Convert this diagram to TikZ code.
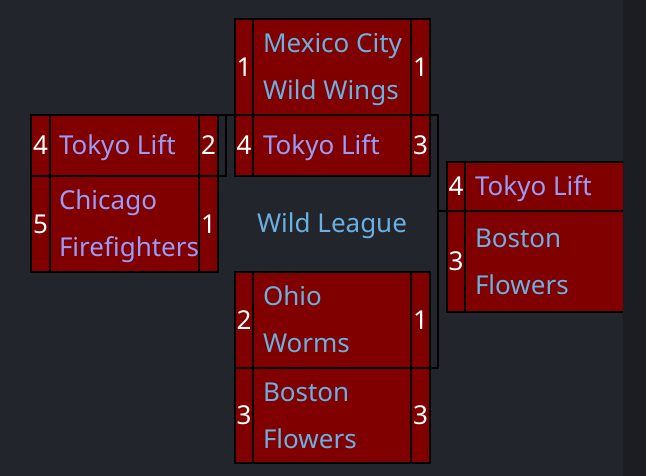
\documentclass[tikz,border=0pt]{standalone}
\usepackage{fontspec}
\setmainfont{Noto Sans}
\definecolor{bg}{HTML}{22252C}
\definecolor{strip}{HTML}{1B1D22}
\definecolor{cellred}{HTML}{800000}
\definecolor{lav}{HTML}{9A9CF8}
\definecolor{lblue}{HTML}{6AB0E0}
\begin{document}
\begin{tikzpicture}[x=1pt,y=-1pt,
  every node/.style={font=\fontsize{26}{47}\selectfont, inner sep=0pt, outer sep=0pt},
  cell/.style={draw=black, line width=2pt, fill=cellred, text=white},
  seedc/.style={cell, minimum width=19pt},
  namec/.style={cell, minimum width=#1},
  hrow/.style={minimum height=#1},
  team/.style={anchor=west, align=left, text=#1},
  conn/.style={draw=black, line width=2pt}
]
\useasboundingbox (0,0) rectangle (646,476);
\fill[bg] (0,0) rectangle (646,476);

% Left match
\node[seedc, hrow=61pt] (L1s) at (40.5,145.5) {4};
\node[namec=149pt, hrow=61pt] (L1n) at (124.5,145.5) {};
\node[seedc, hrow=61pt] (L1c) at (208.5,145.5) {2};
\node[seedc, hrow=96pt] (L2s) at (40.5,224) {5};
\node[namec=149pt, hrow=96pt] (L2n) at (124.5,224) {};
\node[seedc, hrow=96pt] (L2c) at (208.5,224) {1};
\node[team=lav] (L1t) at (59,145.5) {\strut Tokyo Lift};
\node[team=lav] (L2t) at (59,224) {\strut Chicago\\\strut Firefighters};

% Top middle match
\node[seedc, hrow=96pt] (T1s) at (244,67) {1};
\node[namec=158pt, hrow=96pt] (T1n) at (332,67) {};
\node[seedc, hrow=96pt] (T1c) at (420.5,67) {1};
\node[seedc, hrow=61pt] (T2s) at (244,145.5) {4};
\node[namec=158pt, hrow=61pt] (T2n) at (332,145.5) {};
\node[seedc, hrow=61pt] (T2c) at (420.5,145.5) {3};
\node[team=lblue] (T1t) at (263,67) {\strut Mexico City\\\strut Wild Wings};
\node[team=lav] (T2t) at (263,145.5) {\strut Tokyo Lift};

% Bottom middle match
\node[seedc, hrow=96pt] (B1s) at (244,320) {2};
\node[namec=158pt, hrow=96pt] (B1n) at (332,320) {};
\node[seedc, hrow=96pt] (B1c) at (420.5,320) {1};
\node[seedc, hrow=95pt] (B2s) at (244,415.5) {3};
\node[namec=158pt, hrow=95pt] (B2n) at (332,415.5) {};
\node[seedc, hrow=95pt] (B2c) at (420.5,415.5) {3};
\node[team=lblue] (B1t) at (263,320) {\strut Ohio\\\strut Worms};
\node[team=lblue] (B2t) at (263,415.5) {\strut Boston\\\strut Flowers};

% Right match
\node[seedc, hrow=49pt] (R1s) at (456,186.5) {4};
\node[namec=175pt, hrow=49pt] (R1n) at (552.5,186.5) {};
\node[seedc, hrow=101pt] (R2s) at (456,261.5) {3};
\node[namec=175pt, hrow=101pt] (R2n) at (552.5,261.5) {};
\node[team=lav] (R1t) at (475,186.5) {\strut Tokyo Lift};
\node[team=lblue] (R2t) at (475,261.5) {\strut Boston\\\strut Flowers};

% Connectors
\draw[conn] (L1c.north east) -- (T2s.north west);
\draw[conn] (L1c.south east) -- ++(8,0) coordinate (j1) -- (j1 |- L1c.north east);
\draw[conn] (T2c.north east) -- ++(8,0) coordinate (j2) |- (B1c.south east);
\draw[conn] (j2 |- R1s.south west) -- (R1s.south west);

% League label
\node[text=lblue] (league) at (332,223) {\strut Wild League};

% right strip
\fill[strip] (623,0) rectangle (646,476);
\end{tikzpicture}
\end{document}
